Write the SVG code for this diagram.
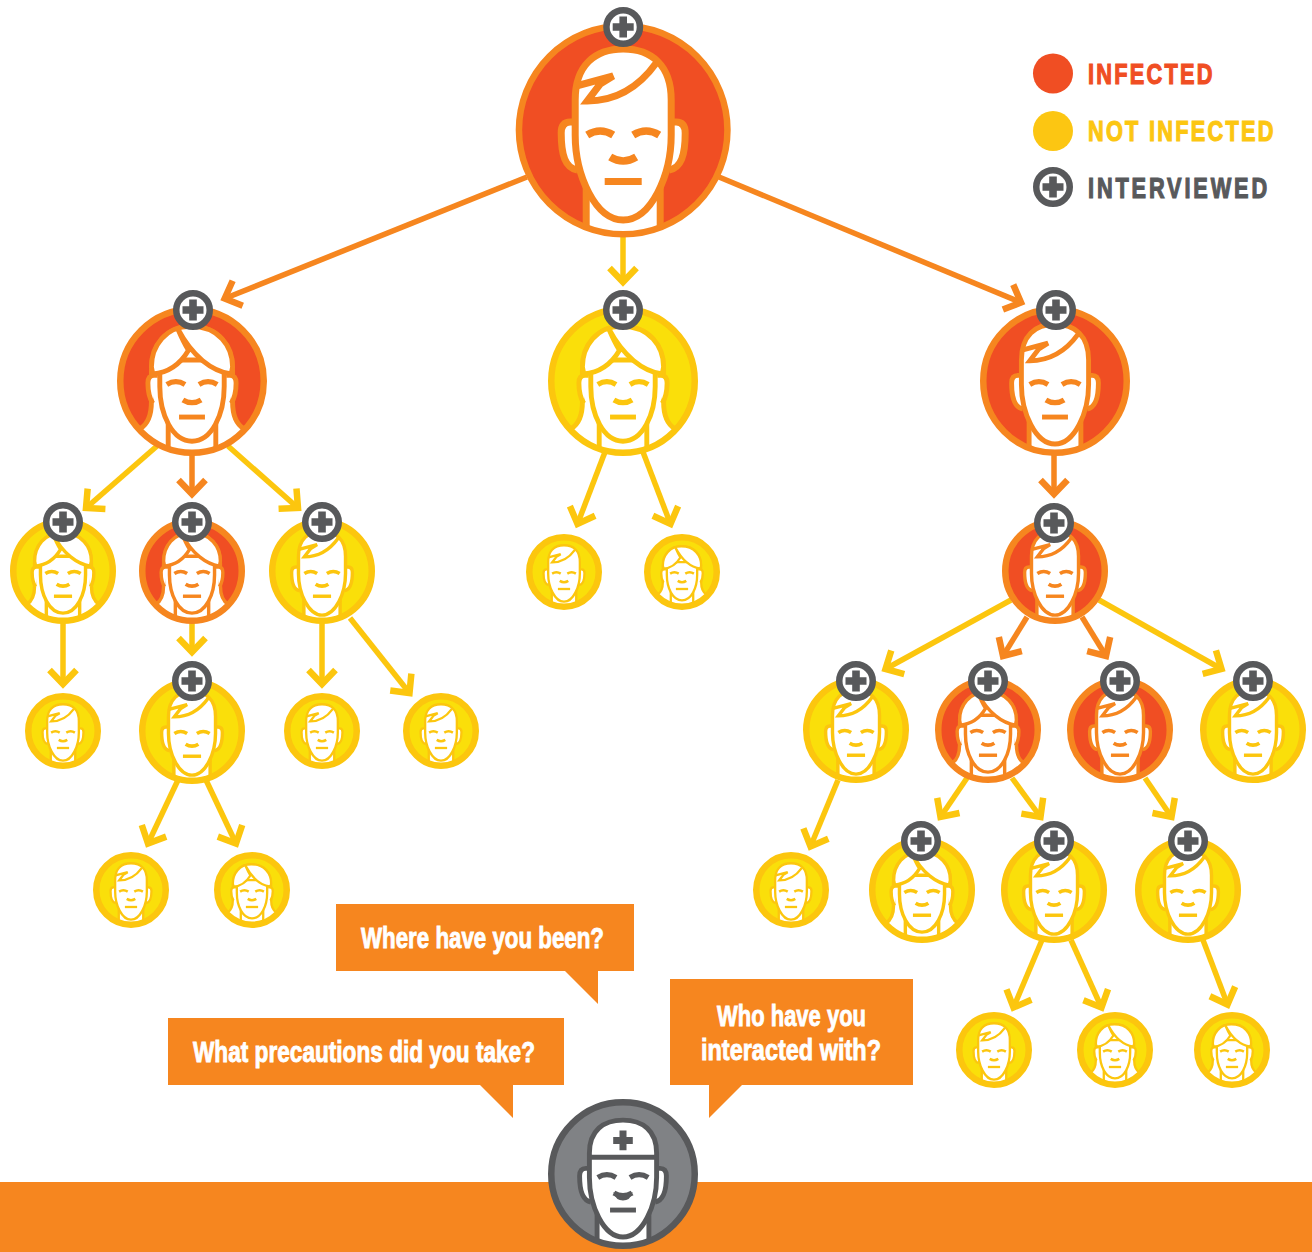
<svg xmlns="http://www.w3.org/2000/svg" width="1312" height="1252" viewBox="0 0 1312 1252">
<style>
text{font-family:"Liberation Sans",Arial,sans-serif;font-weight:700;stroke:none}
.q{font-size:29px;fill:#fff;stroke:#fff;stroke-width:.9px}
.lg{font-size:29px;letter-spacing:3px;stroke-width:1.2px}
.bub{fill:#f6861f}
.red{fill:#f04e23;stroke:#f6861f}
.yel{fill:#fadf0a;stroke:#fcc60e}
.doc{fill:#808285;stroke:#58595b}
.ring{fill:none;stroke-width:6.5px}
.w{fill:#fff;stroke-width:7px}
.n{fill:none;stroke-width:7px}
.e{fill:none;stroke-width:7.5px}
.b0{fill:#fff;stroke:#58595b;stroke-width:6.5px}
.b1{fill:#58595b;stroke:none}
.cy,.co{fill:none;stroke-width:5.5px}
.cy{stroke:#fcc60e}
.co{stroke:#f6861f}
</style>
<defs>
<clipPath id="cl"><circle r="104"/></clipPath>
<marker id="ay" markerUnits="userSpaceOnUse" viewBox="-20 -20 30 40" refX="0" refY="0" markerWidth="30" markerHeight="40" orient="auto"><polyline points="-14,-13.5 0,0 -14,13.5" fill="none" stroke="#fcc60e" stroke-width="6.5" stroke-miterlimit="6"/></marker>
<marker id="ao" markerUnits="userSpaceOnUse" viewBox="-20 -20 30 40" refX="0" refY="0" markerWidth="30" markerHeight="40" orient="auto"><polyline points="-14,-13.5 0,0 -14,13.5" fill="none" stroke="#f6861f" stroke-width="6.5" stroke-miterlimit="6"/></marker>
<g id="features">
<path class="e" d="M-36,5 Q-23,-3 -10,5 M36,5 Q23,-3 10,5"/>
<path class="e" d="M-13,27 Q0,35 13,27"/>
<path class="n" d="M-18.5,51.5 H18.5"/>
</g>
<g id="ears">
<path class="w" d="M-48,-8 H-53 Q-62,-8 -62,3 C-62,25 -58,38 -46,40 M48,-8 H53 Q62,-8 62,3 C62,25 58,38 46,40"/>
</g>
<g id="male">
<circle r="104"/>
<g clip-path="url(#cl)"><path class="w" d="M-37,58 V110 H37 V58 Z"/></g>
<use href="#ears"/>
<path class="w" d="M-48,-30 C-48,-65 -28,-81 0,-81 C28,-81 48,-65 48,-30 V5 C48,45 28,90 0,90 C-28,90 -48,45 -48,5 Z"/>
<path class="n" stroke-linejoin="miter" d="M33,-67 C15,-42 -8,-29 -36,-29 L-23,-46 L-10,-54 L-47,-44"/>
<use href="#features"/>
</g>
<g id="female">
<circle r="104"/>
<g clip-path="url(#cl)">
<path class="w" d="M0,-78 C-38,-78 -58,-50 -58,-15 V30 C-58,50 -64,62 -74,68 L-60,110 H60 L74,68 C64,62 58,50 58,30 V-15 C58,-50 38,-78 0,-78 Z"/>
<path class="w" d="M-34,60 V110 H34 V60 Z"/>
</g>
<path class="w" d="M-49,-8 H-54 Q-63,-8 -63,3 C-63,14 -60,26 -56,32 M49,-8 H54 Q63,-8 63,3 C63,14 60,26 56,32"/>
<path class="w" d="M-46,-30 V8 C-46,48 -28,86 0,86 C28,86 46,48 46,8 V-30 Z"/>
<path class="w" d="M-20,-74 C-14,-60 -10,-52 -5,-44 C-18,-22 -34,-12 -56,-10 L-58,-20 C-58,-50 -38,-78 -2,-78 C38,-78 58,-50 58,-20 L56,-10 C28,-14 0,-36 -20,-74 Z"/>
<use href="#features"/>
</g>
<g id="doctor">
<circle r="104"/>
<g clip-path="url(#cl)"><path class="w" d="M-37,58 V110 H37 V58 Z"/></g>
<use href="#ears"/>
<path class="w" d="M-48,-30 C-48,-62 -28,-77 0,-77 C28,-77 48,-62 48,-30 V5 C48,45 28,90 0,90 C-28,90 -48,45 -48,5 Z"/>
<path class="n" d="M-50,-24 H50"/>
<path style="stroke:none" fill="#58595b" d="M-5,-62 H5 V-53 H14 V-43 H5 V-34 H-5 V-43 H-14 V-53 H-5 Z"/>
<use href="#features"/>
<path style="stroke:none" fill="#58595b" d="M-14,26 Q0,32 14,26 Q10,38 0,38 Q-10,38 -14,26 Z"/>
</g>
<g id="badge">
<circle class="b0" r="16.75"/>
<path class="b1" d="M-3.8,-10.5 H3.8 V-3.8 H10.5 V3.8 H3.8 V10.5 H-3.8 V3.8 H-10.5 V-3.8 H-3.8 Z"/>
</g>
</defs>
<rect id="band" x="0" y="1182" width="1312" height="70" fill="#f6861f"/>
<g id="connectors">
<path class="co" marker-end="url(#ao)" d="M527,177 L224.7,298.5"/>
<path class="co" marker-end="url(#ao)" d="M719,177 L1021,302.5"/>
<path class="cy" marker-end="url(#ay)" d="M623,234 V282"/>
<path class="cy" marker-end="url(#ay)" d="M157,446 L86,508"/>
<path class="co" marker-end="url(#ao)" d="M192,452 V494"/>
<path class="cy" marker-end="url(#ay)" d="M228,446 L298,508"/>
<path class="cy" marker-end="url(#ay)" d="M605,452 L577.5,524"/>
<path class="cy" marker-end="url(#ay)" d="M643,452 L670.5,524"/>
<path class="co" marker-end="url(#ao)" d="M1054,452 V494"/>
<path class="cy" marker-end="url(#ay)" d="M63,622 V684"/>
<path class="cy" marker-end="url(#ay)" d="M192,622 V652"/>
<path class="cy" marker-end="url(#ay)" d="M322,622 V684"/>
<path class="cy" marker-end="url(#ay)" d="M350,618 L409.5,693"/>
<path class="cy" marker-end="url(#ay)" d="M178,780 L148,843.5"/>
<path class="cy" marker-end="url(#ay)" d="M206,780 L236,843.5"/>
<path class="cy" marker-end="url(#ay)" d="M1011,600 L885.5,669"/>
<path class="co" marker-end="url(#ao)" d="M1027,617 L1003,656"/>
<path class="co" marker-end="url(#ao)" d="M1082,617 L1106,656"/>
<path class="cy" marker-end="url(#ay)" d="M1099,600 L1221.5,669"/>
<path class="cy" marker-end="url(#ay)" d="M838,780 L810.5,846.5"/>
<path class="cy" marker-end="url(#ay)" d="M967,778 L940.5,817"/>
<path class="cy" marker-end="url(#ay)" d="M1012,778 L1040.5,817"/>
<path class="cy" marker-end="url(#ay)" d="M1145,778 L1171.5,817"/>
<path class="cy" marker-end="url(#ay)" d="M1042,940 L1013.5,1007.5"/>
<path class="cy" marker-end="url(#ay)" d="M1071,940 L1101.5,1007.5"/>
<path class="cy" marker-end="url(#ay)" d="M1203,940 L1227.5,1004.5"/>
</g>
<g id="n-root" class="red" transform="translate(623.2,130)"><use href="#male"/><circle class="ring" r="104.25"/><use href="#badge" y="-103"/></g>
<g id="n-a" class="red" transform="translate(192,381)"><use href="#female" transform="scale(.7)"/><circle class="ring" r="71.75"/><use href="#badge" x="1" y="-71"/></g>
<g id="n-b" class="yel" transform="translate(623,381)"><use href="#female" transform="scale(.7)"/><circle class="ring" r="71.75"/><use href="#badge" y="-71"/></g>
<g id="n-c" class="red" transform="translate(1055,381)"><use href="#male" transform="scale(.7)"/><circle class="ring" r="71.75"/><use href="#badge" x="1" y="-71"/></g>
<g id="n-a1" class="yel" transform="translate(63,571)"><use href="#female" transform="scale(.49)"/><circle class="ring" r="49.75"/><use href="#badge" y="-49"/></g>
<g id="n-a2" class="red" transform="translate(192,571)"><use href="#female" transform="scale(.49)"/><circle class="ring" r="49.75"/><use href="#badge" y="-49"/></g>
<g id="n-a3" class="yel" transform="translate(322,571)"><use href="#male" transform="scale(.49)"/><circle class="ring" r="49.75"/><use href="#badge" y="-49"/></g>
<g id="n-b1" class="yel" transform="translate(564,572)"><use href="#male" transform="scale(.33)"/><circle class="ring" r="34.75"/></g>
<g id="n-b2" class="yel" transform="translate(682,572)"><use href="#female" transform="scale(.33)"/><circle class="ring" r="34.75"/></g>
<g id="n-c1" class="red" transform="translate(1055,571)"><use href="#male" transform="scale(.49)"/><circle class="ring" r="49.75"/><use href="#badge" x="-1" y="-48"/></g>
<g id="n-a1a" class="yel" transform="translate(63,731)"><use href="#male" transform="scale(.33)"/><circle class="ring" r="34.75"/></g>
<g id="n-a2a" class="yel" transform="translate(192,731)"><use href="#male" transform="scale(.49)"/><circle class="ring" r="49.75"/><use href="#badge" y="-50"/></g>
<g id="n-a3a" class="yel" transform="translate(322,731)"><use href="#male" transform="scale(.33)"/><circle class="ring" r="34.75"/></g>
<g id="n-a3b" class="yel" transform="translate(441,731)"><use href="#male" transform="scale(.33)"/><circle class="ring" r="34.75"/></g>
<g id="n-a2a1" class="yel" transform="translate(131,890)"><use href="#male" transform="scale(.33)"/><circle class="ring" r="34.75"/></g>
<g id="n-a2a2" class="yel" transform="translate(252,890)"><use href="#female" transform="scale(.33)"/><circle class="ring" r="34.75"/></g>
<g id="n-c1a" class="yel" transform="translate(856,730)"><use href="#male" transform="scale(.49)"/><circle class="ring" r="49.75"/><use href="#badge" y="-49"/></g>
<g id="n-c1b" class="red" transform="translate(988,730)"><use href="#female" transform="scale(.49)"/><circle class="ring" r="49.75"/><use href="#badge" y="-49"/></g>
<g id="n-c1c" class="red" transform="translate(1120,730)"><use href="#male" transform="scale(.49)"/><circle class="ring" r="49.75"/><use href="#badge" y="-49"/></g>
<g id="n-c1d" class="yel" transform="translate(1253,730)"><use href="#male" transform="scale(.49)"/><circle class="ring" r="49.75"/><use href="#badge" y="-49"/></g>
<g id="n-c2a" class="yel" transform="translate(791,890)"><use href="#male" transform="scale(.33)"/><circle class="ring" r="34.75"/></g>
<g id="n-c2b" class="yel" transform="translate(922,890)"><use href="#female" transform="scale(.49)"/><circle class="ring" r="49.75"/><use href="#badge" x="-1" y="-49"/></g>
<g id="n-c2c" class="yel" transform="translate(1054,890)"><use href="#male" transform="scale(.49)"/><circle class="ring" r="49.75"/><use href="#badge" y="-49"/></g>
<g id="n-c2d" class="yel" transform="translate(1188,890)"><use href="#male" transform="scale(.49)"/><circle class="ring" r="49.75"/><use href="#badge" y="-49"/></g>
<g id="n-c3a" class="yel" transform="translate(994,1050)"><use href="#male" transform="scale(.33)"/><circle class="ring" r="34.75"/></g>
<g id="n-c3b" class="yel" transform="translate(1115,1050)"><use href="#female" transform="scale(.33)"/><circle class="ring" r="34.75"/></g>
<g id="n-c3c" class="yel" transform="translate(1232,1050)"><use href="#female" transform="scale(.33)"/><circle class="ring" r="34.75"/></g>
<g id="n-doctor" class="doc" transform="translate(623,1174)"><use href="#doctor" transform="scale(.7)"/><circle class="ring" r="71.75"/></g>
<g id="bubble-been">
<path class="bub" d="M336,904 H634 V971 H598 V1004 L565,971 H336 Z"/>
<text class="q" x="361" y="947.5" textLength="243" lengthAdjust="spacingAndGlyphs">Where have you been?</text>
</g>
<g id="bubble-precautions">
<path class="bub" d="M168,1018 H564 V1085 H513 V1118 L480,1085 H168 Z"/>
<text class="q" x="193" y="1061.5" textLength="342" lengthAdjust="spacingAndGlyphs">What precautions did you take?</text>
</g>
<g id="bubble-who">
<path class="bub" d="M670,979 H913 V1085 H742 L709,1118 V1085 H670 Z"/>
<text class="q" x="717" y="1025.5" textLength="149" lengthAdjust="spacingAndGlyphs">Who have you</text>
<text class="q" x="701" y="1059.5" textLength="180" lengthAdjust="spacingAndGlyphs">interacted with?</text>
</g>
<g id="legend">
<circle cx="1053" cy="73.5" r="20" fill="#f04e23"/>
<text class="lg" transform="translate(1088,84) scale(.75,1)" style="fill:#f04e23;stroke:#f04e23">INFECTED</text>
<circle cx="1053" cy="131" r="20" fill="#fcc612"/>
<text class="lg" transform="translate(1088,141) scale(.75,1)" style="fill:#fcc612;stroke:#fcc612">NOT INFECTED</text>
<use href="#badge" x="1053" y="187"/>
<text class="lg" transform="translate(1088,198) scale(.75,1)" style="fill:#58595b;stroke:#58595b;letter-spacing:3.8px">INTERVIEWED</text>
</g>
</svg>
